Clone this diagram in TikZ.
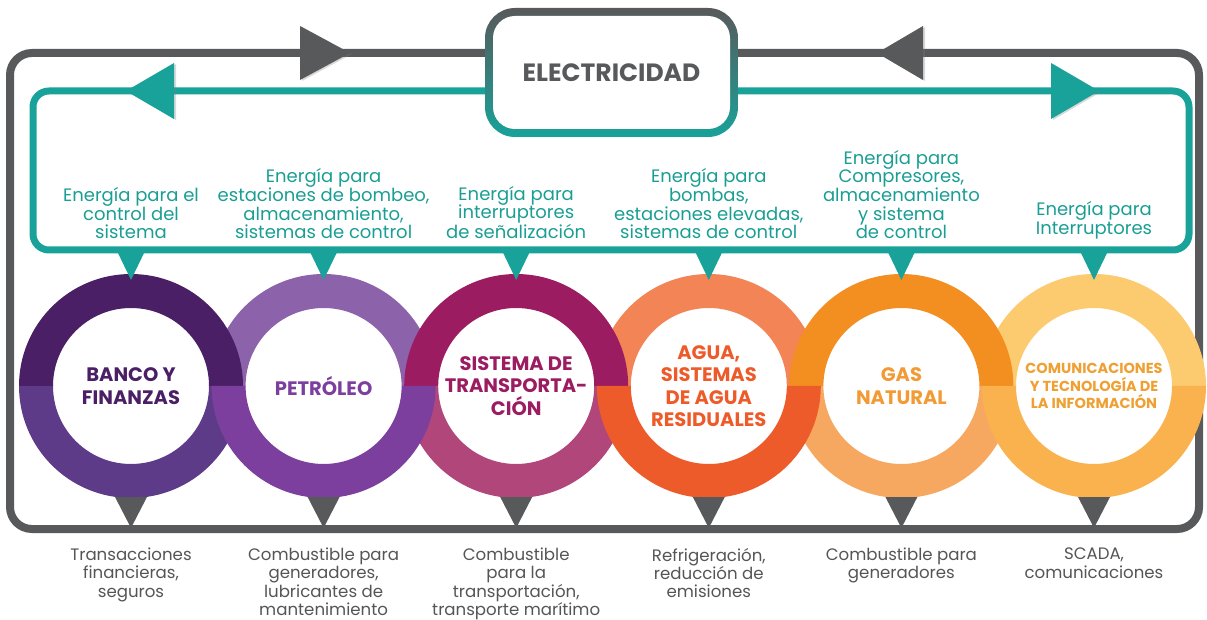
\documentclass[tikz,border=0pt]{standalone}
\usepackage{fontspec}
\setmainfont{Poppins}
\usetikzlibrary{shadows}

\definecolor{tealc}{HTML}{18A299}
\definecolor{tealtxt}{HTML}{1A9E94}
\definecolor{grayc}{HTML}{58595B}
\definecolor{graytxt}{HTML}{555555}
\definecolor{ra1}{HTML}{4A1F66}\definecolor{rb1}{HTML}{5E3B89}
\definecolor{ra2}{HTML}{8C62AA}\definecolor{rb2}{HTML}{7C3F9E}
\definecolor{ra3}{HTML}{9C1C62}\definecolor{rb3}{HTML}{B0467A}
\definecolor{ra4}{HTML}{F28456}\definecolor{rb4}{HTML}{EE5B2A}
\definecolor{ra5}{HTML}{F38E20}\definecolor{rb5}{HTML}{F6A860}
\definecolor{ra6}{HTML}{FCCB70}\definecolor{rb6}{HTML}{F9B24E}
\definecolor{gastxt}{HTML}{F29A35}
\definecolor{comtxt}{HTML}{EFA033}

\tikzset{
  grayline/.style={draw=grayc, line width=8pt, rounded corners=22pt},
  tealline/.style={draw=tealc, line width=7pt, rounded corners=16pt},
  arrowshadow/.style={drop shadow={shadow xshift=2pt, shadow yshift=-1pt, opacity=.3}},
  tealtext/.style={text=tealtxt, font=\fontsize{18}{18.6}\selectfont, align=center, anchor=south, inner sep=0pt},
  usetext/.style={text=graytxt, font=\fontsize{16.6}{18.1}\selectfont, align=center, anchor=north, inner sep=0pt},
  ringlabel/.style={font=\bfseries\fontsize{19.5}{22.3}\selectfont, align=center, inner sep=0pt},
}

\begin{document}
\begin{tikzpicture}[x=1pt,y=1pt]
\useasboundingbox (0,0) rectangle (1207,619);

% electricity box
\node[top color=grayc, bottom color=tealc, rounded corners=30pt,
      minimum width=253pt, minimum height=129pt, inner sep=0pt] (elec) at (611.5,546.5) {};
\node[fill=white, rounded corners=22pt, minimum width=237pt, minimum height=113pt,
      inner sep=0pt, text=grayc, font=\bfseries\fontsize{25}{28}\selectfont] (electxt) at (elec) {ELECTRICIDAD};

% gray and teal loops
\draw[grayline] (elec.west |- 0,566) -- (10,566) -- (10,90) -- (1199,90) -- (1199,566) -- (elec.east |- 0,566);
\draw[tealline] (elec.west |- 0,528) -- (33,528) -- (33,369) -- (1189,369) -- (1189,528) -- (elec.east |- 0,528);

\fill[grayc, arrowshadow] (300,593) -- (350,566) -- (300,539) -- cycle;
\fill[grayc, arrowshadow] (923,593) -- (877,566) -- (923,539) -- cycle;
\fill[tealc, arrowshadow] (174,556) -- (126,528) -- (174,500) -- cycle;
\fill[tealc, arrowshadow] (1051,556) -- (1099,528) -- (1051,500) -- cycle;

% rings, halves below the others first
\foreach \cx/\c in {131/rb1, 516.2/rb3, 901.4/rb5}
  \fill[\c] (\cx+112,233) arc[start angle=0, end angle=-180, radius=112] -- (\cx-78,233)
    arc[start angle=180, end angle=360, radius=78] -- cycle;
\foreach \cx/\c in {323.6/ra2, 708.8/ra4, 1094/ra6}
  \fill[\c] (\cx+112,233) arc[start angle=0, end angle=180, radius=112] -- (\cx-78,233)
    arc[start angle=180, end angle=0, radius=78] -- cycle;
\foreach \cx/\c in {131/ra1, 516.2/ra3, 901.4/ra5}
  \fill[\c] (\cx+112,233) arc[start angle=0, end angle=180, radius=112] -- (\cx-78,233)
    arc[start angle=180, end angle=0, radius=78] -- cycle;
\foreach \cx/\c in {323.6/rb2, 708.8/rb4, 1094/rb6}
  \fill[\c] (\cx+112,233) arc[start angle=0, end angle=-180, radius=112] -- (\cx-78,233)
    arc[start angle=180, end angle=360, radius=78] -- cycle;

\node[ringlabel, text=ra1] (ring1) at (131,233) {BANCO Y\\FINANZAS};
\node[ringlabel, text=rb2] (ring2) at (323.6,233) {PETRÓLEO};
\node[ringlabel, text=ra3] (ring3) at (516.2,233) {SISTEMA DE\\TRANSPORTA-\\CIÓN};
\node[ringlabel, text=rb4] (ring4) at (708.8,233) {AGUA,\\SISTEMAS\\DE AGUA\\RESIDUALES};
\node[ringlabel, text=gastxt] (ring5) at (901.4,233) {GAS\\NATURAL};
\node[ringlabel, text=comtxt, font=\bfseries\fontsize{14.5}{17.5}\selectfont] (ring6) at (1094,233) {COMUNICACIONES\\Y TECNOLOGÍA DE\\LA INFORMACIÓN};

% pointers
\foreach \i in {1,...,6} {
  \fill[tealc] (ring\i |- 0,368) ++(-14,0) -- ++(28,0) -- ++(-14,-29) -- cycle;
  \fill[grayc] (ring\i |- 0,122) ++(-16,0) -- ++(32,0) -- ++(-16,-31) -- cycle;
}

% energy for each sector
\node[tealtext] (t1) at (131,380) {Energía para el\\control del\\sistema};
\node[tealtext] (t2) at (323.6,380) {Energía para\\estaciones de bombeo,\\almacenamiento,\\sistemas de control};
\node[tealtext] (t3) at (516.2,380) {Energía para\\interruptores\\de señalización};
\node[tealtext] (t4) at (708.8,380) {Energía para\\bombas,\\estaciones elevadas,\\sistemas de control};
\node[tealtext] (t5) at (901.4,380) {Energía para\\Compresores,\\almacenamiento\\y sistema\\de control};
\node[tealtext] (t6) at (1094,380) {Energía para\\Interruptores};

% what each sector gives back
\node[usetext] (b1) at (131,71) {Transacciones\\financieras,\\seguros};
\node[usetext] (b2) at (323.6,71) {Combustible para\\generadores,\\lubricantes de\\mantenimiento};
\node[usetext] (b3) at (516.2,71) {Combustible\\para la\\transportación,\\transporte marítimo};
\node[usetext] (b4) at (708.8,71) {Refrigeración,\\reducción de\\emisiones};
\node[usetext] (b5) at (901.4,71) {Combustible para\\generadores};
\node[usetext] (b6) at (1094,71) {SCADA,\\comunicaciones};
\end{tikzpicture}
\end{document}
